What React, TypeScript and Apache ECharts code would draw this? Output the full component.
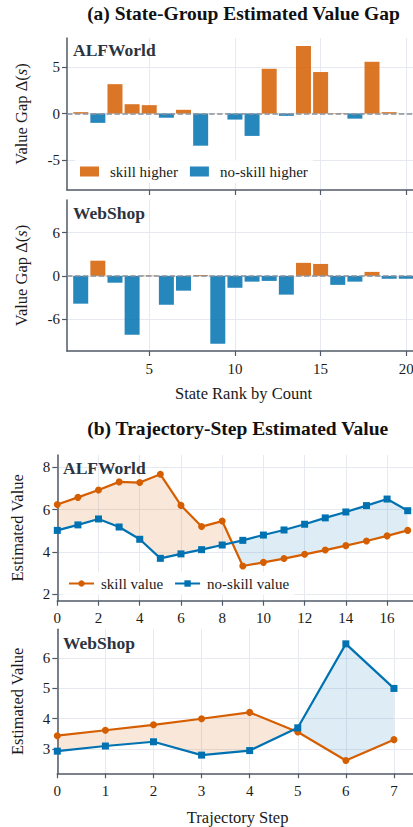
import React, { useEffect, useRef } from 'react';
import * as echarts from 'echarts';

// ---------- data ----------
const stateRanks = [1, 2, 3, 4, 5, 6, 7, 8, 9, 10, 11, 12, 13, 14, 15, 16, 17, 18, 19, 20];
const alfworldGap = [0.15, -1.0, 3.15, 1.0, 0.9, -0.45, 0.4, -3.45, 0, -0.65, -2.4, 4.8, -0.25, 7.25, 4.45, 0.05, -0.55, 5.55, 0.15, 0];
const webshopGap = [-3.85, 2.1, -0.95, -8.15, 0.05, -4.0, -2.05, 0.12, -9.4, -1.65, -0.8, -0.7, -2.6, 1.8, 1.65, -1.25, -0.8, 0.55, -0.4, -0.4];
const rankTicks = [5, 10, 15, 20];
const alfGapTicks = [-5, 0, 5];
const webGapTicks = [-6, 0, 6];

const alfSteps = [0, 1, 2, 3, 4, 5, 6, 7, 8, 9, 10, 11, 12, 13, 14, 15, 16, 17];
const alfSkill = [6.24, 6.58, 6.93, 7.31, 7.28, 7.67, 6.2, 5.2, 5.46, 3.34, 3.51, 3.69, 3.89, 4.09, 4.3, 4.52, 4.76, 5.02];
const alfNoSkill = [5.02, 5.28, 5.56, 5.18, 4.6, 3.7, 3.91, 4.11, 4.33, 4.55, 4.8, 5.04, 5.31, 5.61, 5.89, 6.19, 6.5, 5.95];
const alfStepTicks = [0, 2, 4, 6, 8, 10, 12, 14, 16];
const alfValueTicks = [2, 4, 6, 8];

const webSteps = [0, 1, 2, 3, 4, 5, 6, 7];
const webSkill = [3.44, 3.62, 3.8, 4.0, 4.21, 3.56, 2.62, 3.31];
const webNoSkill = [2.93, 3.1, 3.24, 2.8, 2.95, 3.7, 6.47, 5.0];
const webStepTicks = [0, 1, 2, 3, 4, 5, 6, 7];
const webValueTicks = [3, 4, 5, 6];

// ---------- style ----------
const FONT = 'Liberation Serif';
const ORANGE = '#D55E00';
const BLUE = '#0072B2';
const AXIS = '#505a66';
const GRID = '#e6eaf0';
const TEXT = '#1a1a1a';
const PANEL = '#2b3440';

function valueAxis(gridIndex: number, min: number, max: number, ticks: number[], extra: any = {}) {
  return {
    type: 'value',
    gridIndex,
    min,
    max,
    axisLine: { show: true, onZero: false, lineStyle: { color: AXIS, width: 1.5 } },
    axisTick: { show: true, length: 5, lineStyle: { color: AXIS, width: 1.2 }, customValues: ticks },
    axisLabel: { show: true, customValues: ticks, color: TEXT, fontFamily: FONT, fontSize: 15 },
    splitLine: { show: true, lineStyle: { color: GRID, width: 1 } },
    ...extra,
  };
}

function fillBetween(xs: number[], a: number[], b: number[], xi: number, yi: number) {
  return {
    type: 'custom',
    xAxisIndex: xi,
    yAxisIndex: yi,
    z: 1,
    silent: true,
    data: xs.slice(0, -1).map((x, i) => [x, a[i]]),
    renderItem: (params: any, api: any) => {
      const i = params.dataIndex;
      const x0 = xs[i], x1 = xs[i + 1];
      const d0 = a[i] - b[i];
      const d1 = a[i + 1] - b[i + 1];
      const colA = 'rgba(213,94,0,0.15)';
      const colB = 'rgba(0,114,178,0.13)';
      const A0 = api.coord([x0, a[i]]), A1 = api.coord([x1, a[i + 1]]);
      const B0 = api.coord([x0, b[i]]), B1 = api.coord([x1, b[i + 1]]);
      const children: any[] = [];
      if (d0 * d1 >= 0) {
        children.push({
          type: 'polygon',
          shape: { points: [A0, A1, B1, B0] },
          style: { fill: d0 + d1 >= 0 ? colA : colB },
        });
      } else {
        const t = d0 / (d0 - d1);
        const xc = x0 + t * (x1 - x0);
        const yc = a[i] + t * (a[i + 1] - a[i]);
        const C = api.coord([xc, yc]);
        children.push({ type: 'polygon', shape: { points: [A0, C, B0] }, style: { fill: d0 > 0 ? colA : colB } });
        children.push({ type: 'polygon', shape: { points: [C, A1, B1] }, style: { fill: d1 > 0 ? colA : colB } });
      }
      return { type: 'group', children };
    },
  };
}

function barSeries(name: string, vals: number[], positive: boolean, xi: number, color: string, withZero: boolean) {
  return {
    type: 'bar',
    name,
    xAxisIndex: xi,
    yAxisIndex: xi,
    barWidth: 15,
    barGap: '-100%',
    itemStyle: { color, opacity: 0.85 },
    data: stateRanks.map((r, i) => [r, (positive ? vals[i] >= 0 : vals[i] < 0) ? vals[i] : null]),
    markLine: withZero
      ? {
          silent: true,
          symbol: 'none',
          label: { show: false },
          lineStyle: { color: '#8a9098', type: [5.5, 2.4], width: 1.6 },
          data: [{ yAxis: 0 }],
          z: 10,
        }
      : undefined,
    z: 2,
  };
}

function lineSeries(name: string, xs: number[], ys: number[], xi: number, color: string, symbol: string) {
  return {
    type: 'line',
    name,
    xAxisIndex: xi,
    yAxisIndex: xi,
    data: xs.map((x, i) => [x, ys[i]]),
    symbol,
    symbolSize: 7,
    showSymbol: true,
    lineStyle: { color, width: 2.2 },
    itemStyle: { color },
    z: 5,
  };
}

export default function App() {
  const ref = useRef<HTMLDivElement>(null);
  useEffect(() => {
    if (!ref.current) return;
    const chart = echarts.init(ref.current, undefined, { renderer: 'svg' });
    const grids = [
      { left: 67, top: 38, width: 353, height: 152, outerBoundsMode: 'none' },
      { left: 67, top: 200, width: 353, height: 151, outerBoundsMode: 'none' },
      { left: 57.3, top: 455, width: 360.7, height: 145.7, outerBoundsMode: 'none' },
      { left: 57.3, top: 629.3, width: 360.7, height: 144, outerBoundsMode: 'none' },
    ];
    const panelTitle = (text: string, left: number, top: number) => ({
      text,
      left,
      top,
      padding: 0,
      textStyle: { fontFamily: FONT, fontSize: 17.5, fontWeight: 'bold', color: PANEL },
    });
    const option: any = {
      animation: false,
      backgroundColor: '#ffffff',
      textStyle: { fontFamily: FONT },
      title: [
        {
          text: '(a) State-Group Estimated Value Gap',
          left: 243.5,
          top: 3,
          textAlign: 'center',
          padding: 0,
          textStyle: { fontFamily: FONT, fontSize: 19.5, fontWeight: 'bold', color: '#111' },
        },
        {
          text: '(b) Trajectory-Step Estimated Value',
          left: 237.7,
          top: 418,
          textAlign: 'center',
          padding: 0,
          textStyle: { fontFamily: FONT, fontSize: 19.5, fontWeight: 'bold', color: '#111' },
        },
        panelTitle('ALFWorld', 73, 41),
        panelTitle('WebShop', 73, 204),
        panelTitle('ALFWorld', 63, 459),
        panelTitle('WebShop', 63, 634),
      ],
      legend: [
        {
          data: ['skill higher', 'no-skill higher'],
          left: 75,
          top: 160,
          padding: [4, 5],
          itemWidth: 19,
          itemHeight: 10,
          itemGap: 12,
          icon: 'rect',
          backgroundColor: 'rgba(255,255,255,0.85)',
          textStyle: { fontFamily: FONT, fontSize: 15, color: TEXT, padding: [0, 0, 0, 6] },
          selectedMode: false,
        },
        {
          data: ['skill value', 'no-skill value'],
          left: 63,
          top: 572,
          padding: [4, 5],
          itemWidth: 25,
          itemHeight: 8,
          itemGap: 11,
          backgroundColor: 'rgba(255,255,255,0.85)',
          textStyle: { fontFamily: FONT, fontSize: 15, color: TEXT, padding: [0, 0, 0, 2] },
          selectedMode: false,
        },
      ],
      grid: grids,
      xAxis: [
        valueAxis(0, 0.2, 20.8, rankTicks, { axisLabel: { show: false, customValues: rankTicks } }),
        valueAxis(1, 0.2, 20.8, rankTicks, {
          name: 'State Rank by Count',
          nameLocation: 'middle',
          nameGap: 34,
          nameTextStyle: { fontFamily: FONT, fontSize: 16.5, color: TEXT },
          axisLabel: { customValues: rankTicks, color: TEXT, fontFamily: FONT, fontSize: 15, margin: 10 },
        }),
        valueAxis(2, 0, 17.5, alfStepTicks, {
          axisLabel: { customValues: alfStepTicks, color: TEXT, fontFamily: FONT, fontSize: 15, margin: 10 },
        }),
        valueAxis(3, 0, 7.5, webStepTicks, {
          name: 'Trajectory Step',
          nameLocation: 'middle',
          nameGap: 36,
          nameTextStyle: { fontFamily: FONT, fontSize: 16.5, color: TEXT },
          axisLabel: { customValues: webStepTicks, color: TEXT, fontFamily: FONT, fontSize: 15, margin: 10 },
        }),
      ],
      yAxis: [
        valueAxis(0, -8.2, 8.1, alfGapTicks, {
          name: 'Value Gap Δ({i|s})',
          nameLocation: 'middle',
          nameGap: 37,
          nameTextStyle: { fontFamily: FONT, fontSize: 16.5, color: TEXT, rich: { i: { fontFamily: FONT, fontSize: 16.5, fontStyle: 'italic', color: TEXT } } },
          axisLabel: { customValues: alfGapTicks, color: TEXT, fontFamily: FONT, fontSize: 15, margin: 7 },
        }),
        valueAxis(1, -10.4, 10.5, webGapTicks, {
          name: 'Value Gap Δ({i|s})',
          nameLocation: 'middle',
          nameGap: 37,
          nameTextStyle: { fontFamily: FONT, fontSize: 16.5, color: TEXT, rich: { i: { fontFamily: FONT, fontSize: 16.5, fontStyle: 'italic', color: TEXT } } },
          axisLabel: { customValues: webGapTicks, color: TEXT, fontFamily: FONT, fontSize: 15, margin: 7 },
        }),
        valueAxis(2, 1.7, 8.58, alfValueTicks, {
          name: 'Estimated Value',
          nameLocation: 'middle',
          nameGap: 31,
          nameTextStyle: { fontFamily: FONT, fontSize: 16.5, color: TEXT },
          axisLabel: { customValues: alfValueTicks, color: TEXT, fontFamily: FONT, fontSize: 15, margin: 7 },
        }),
        valueAxis(3, 2.2, 6.95, webValueTicks, {
          name: 'Estimated Value',
          nameLocation: 'middle',
          nameGap: 31,
          nameTextStyle: { fontFamily: FONT, fontSize: 16.5, color: TEXT },
          axisLabel: { customValues: webValueTicks, color: TEXT, fontFamily: FONT, fontSize: 15, margin: 7 },
        }),
      ],
      series: [
        barSeries('skill higher', alfworldGap, true, 0, ORANGE, false),
        barSeries('no-skill higher', alfworldGap, false, 0, BLUE, true),
        barSeries('skill higher', webshopGap, true, 1, ORANGE, false),
        barSeries('no-skill higher', webshopGap, false, 1, BLUE, true),
        fillBetween(alfSteps, alfSkill, alfNoSkill, 2, 2),
        lineSeries('skill value', alfSteps, alfSkill, 2, ORANGE, 'circle'),
        lineSeries('no-skill value', alfSteps, alfNoSkill, 2, BLUE, 'rect'),
        fillBetween(webSteps, webSkill, webNoSkill, 3, 3),
        lineSeries('skill value', webSteps, webSkill, 3, ORANGE, 'circle'),
        lineSeries('no-skill value', webSteps, webNoSkill, 3, BLUE, 'rect'),
      ],
    };
    chart.setOption(option);
    return () => chart.dispose();
  }, []);
  return <div ref={ref} style={{ position: 'fixed', left: 0, top: 0, width: 413, height: 827 }} />;
}
